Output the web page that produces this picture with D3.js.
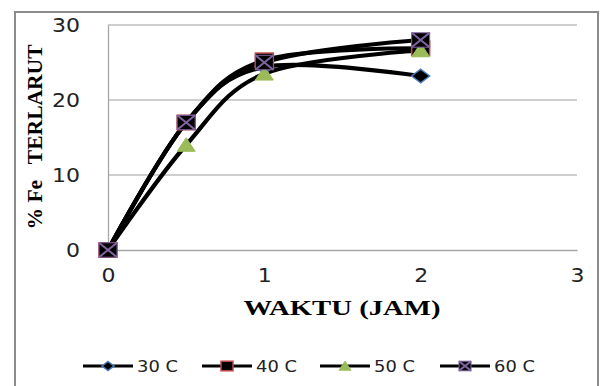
<!DOCTYPE html>
<html>
<head>
<meta charset="utf-8">
<script src="https://cdn.jsdelivr.net/npm/d3@7"></script>
<style>
  html, body { margin: 0; padding: 0; background: #fff; }
  svg { display: block; }
</style>
</head>
<body>
<svg id="chart" width="601" height="386"></svg>
<script>
// Dissolved Fe (%) over leaching time, one series per temperature
const hours = [0, 0.5, 1, 2];
const seriesNames = ["30 C", "40 C", "50 C", "60 C"];
const fe30 = [0, 17, 24.4, 23.2];
const fe40 = [0, 17, 25.3, 26.9];
const fe50 = [0, 14, 23.5, 26.6];
const fe60 = [0, 17, 25.0, 28.0];
const xTicks = [0, 1, 2, 3];
const yTicks = [0, 10, 20, 30];
const markerKinds = ["diamond", "square", "triangle", "cross"];

const series = [fe30, fe40, fe50, fe60].map((vals, i) => ({
  name: seriesNames[i],
  kind: markerKinds[i],
  points: hours.map((h, j) => ({ x: h, y: vals[j] }))
}));

const svg = d3.select("#chart");

// outer chart frame
svg.append("rect")
  .attr("x", 15).attr("y", 12).attr("width", 583).attr("height", 400)
  .attr("fill", "none").attr("stroke", "#8c8c8c").attr("stroke-width", 2);

const plot = { left: 108, right: 577, top: 25, bottom: 250 };
const x = d3.scaleLinear().domain([0, 3]).range([plot.left, plot.right]);
const y = d3.scaleLinear().domain([0, 30]).range([plot.bottom, plot.top]);

// horizontal gridlines
svg.append("g")
  .selectAll("line")
  .data(yTicks.filter(t => t > 0))
  .join("line")
  .attr("x1", plot.left).attr("x2", plot.right)
  .attr("y1", d => y(d)).attr("y2", d => y(d))
  .attr("stroke", "#bfbfbf").attr("stroke-width", 1.3);

// axes
const fmt = d3.format("d");
const yAxis = svg.append("g")
  .attr("transform", `translate(${plot.left},0)`)
  .call(d3.axisLeft(y).tickValues(yTicks).tickFormat(fmt).tickSize(0).tickPadding(28));
const xAxis = svg.append("g")
  .attr("transform", `translate(0,${plot.bottom})`)
  .call(d3.axisBottom(x).tickValues(xTicks).tickFormat(fmt).tickSize(0).tickPadding(20));

[yAxis, xAxis].forEach(a => {
  a.select(".domain").attr("stroke", "#a6a6a6").attr("stroke-width", 1.3);
  a.selectAll("text")
    .attr("font-family", "DejaVu Sans, Verdana, sans-serif")
    .attr("font-size", 20)
    .attr("fill", "#222")
    .attr("textLength", d => 14 * fmt(d).length)
    .attr("lengthAdjust", "spacingAndGlyphs");
});
xAxis.selectAll("text").attr("dy", "0.6em");

// smoothed series lines
const line = d3.line()
  .x(d => x(d.x)).y(d => y(d.y))
  .curve(d3.curveCardinal.tension(0));

svg.append("g")
  .selectAll("path")
  .data(series)
  .join("path")
  .attr("d", d => line(d.points))
  .attr("fill", "none")
  .attr("stroke", "#000")
  .attr("stroke-width", 4.2)
  .attr("stroke-linejoin", "round");

// marker drawing helper
function drawMarker(g, kind, cx, cy, s) {
  const h = s / 2;
  if (kind === "diamond") {
    g.append("path")
      .attr("d", `M${cx},${cy - h * 0.75}L${cx + h},${cy}L${cx},${cy + h * 0.75}L${cx - h},${cy}Z`)
      .attr("fill", "#000").attr("stroke", "#4a7ebb").attr("stroke-width", 1.5);
  } else if (kind === "square") {
    g.append("rect")
      .attr("x", cx - h).attr("y", cy - h * 0.8).attr("width", s).attr("height", s * 0.8)
      .attr("fill", "#000").attr("stroke", "#be4b48").attr("stroke-width", 1.5);
  } else if (kind === "triangle") {
    g.append("path")
      .attr("d", `M${cx},${cy - h * 0.8}L${cx + h},${cy + h * 0.7}L${cx - h},${cy + h * 0.7}Z`)
      .attr("fill", "#9bbb59").attr("stroke", "#9bbb59").attr("stroke-width", 1);
  } else {
    g.append("rect")
      .attr("x", cx - h).attr("y", cy - h * 0.8).attr("width", s).attr("height", s * 0.8)
      .attr("fill", "#000").attr("stroke", "#7d60a0").attr("stroke-width", 1);
    g.append("path")
      .attr("d", `M${cx - h},${cy - h * 0.8}L${cx + h},${cy + h * 0.8}M${cx + h},${cy - h * 0.8}L${cx - h},${cy + h * 0.8}`)
      .attr("stroke", "#8064a2").attr("stroke-width", 2);
  }
}

const markers = svg.append("g");
series.forEach(s => {
  s.points.forEach(p => drawMarker(markers, s.kind, x(p.x), y(p.y), 18));
});

// axis titles
svg.append("text")
  .attr("transform", "translate(42,137) rotate(-90)")
  .attr("text-anchor", "middle")
  .attr("font-family", "Liberation Serif, Times New Roman, serif")
  .attr("font-weight", "bold")
  .attr("font-size", 21)
  .attr("textLength", 185)
  .attr("lengthAdjust", "spacingAndGlyphs")
  .style("white-space", "pre")
  .text("% Fe   TERLARUT");

svg.append("text")
  .attr("x", 342).attr("y", 315)
  .attr("text-anchor", "middle")
  .attr("font-family", "Liberation Serif, Times New Roman, serif")
  .attr("font-weight", "bold")
  .attr("font-size", 21)
  .attr("textLength", 197)
  .attr("lengthAdjust", "spacingAndGlyphs")
  .text("WAKTU (JAM)");

// legend
const legendX = [83, 202, 320, 440];
const legend = svg.append("g");
series.forEach((s, i) => {
  const lx = legendX[i], ly = 366;
  legend.append("line")
    .attr("x1", lx).attr("x2", lx + 50).attr("y1", ly).attr("y2", ly)
    .attr("stroke", "#000").attr("stroke-width", 3);
  drawMarker(legend, s.kind, lx + 25, ly, 12);
  legend.append("text")
    .attr("x", lx + 54).attr("y", ly + 6)
    .attr("font-family", "DejaVu Sans, Verdana, sans-serif")
    .attr("font-size", 15)
    .attr("fill", "#222")
    .attr("textLength", 41)
    .attr("lengthAdjust", "spacingAndGlyphs")
    .text(s.name);
});
</script>
</body>
</html>
